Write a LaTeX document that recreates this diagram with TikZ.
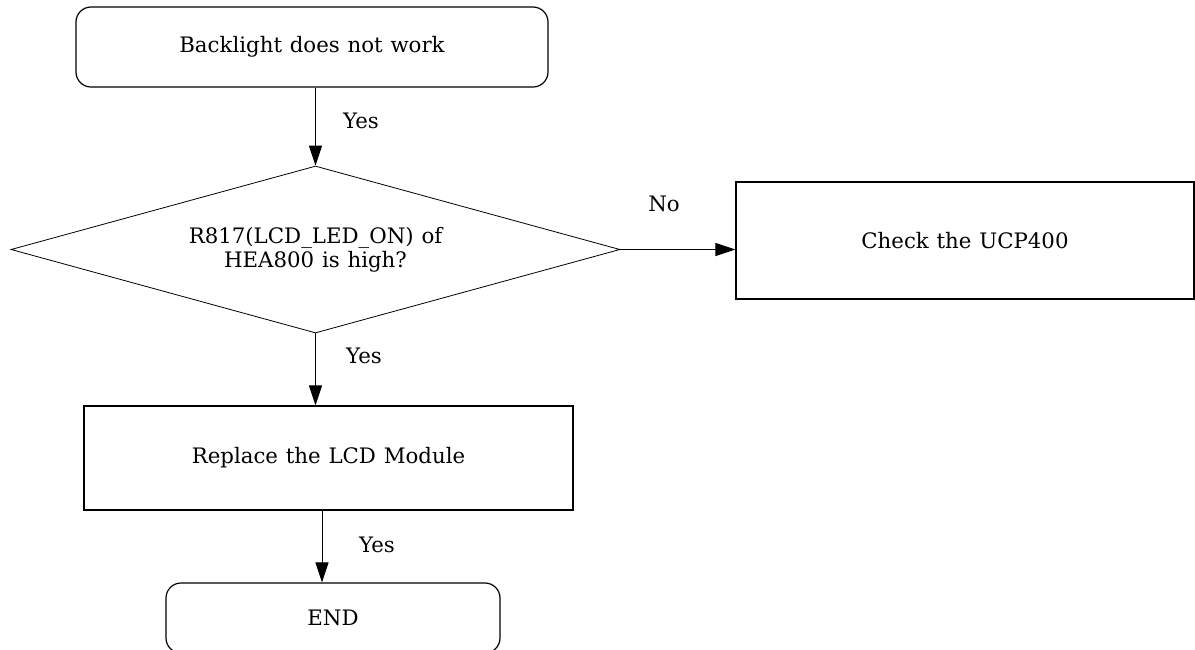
\documentclass[tikz,border=0pt]{standalone}
\usepackage{fontspec}
\setmainfont{DejaVu Serif}[WordSpace=1.15]
\usetikzlibrary{shapes.geometric,arrows.meta}
\begin{document}
\begin{tikzpicture}[x=1pt,y=-1pt,
  every node/.style={font=\fontsize{21.3}{22}\selectfont},
  roundbox/.style={draw,line width=1.2pt,rounded corners=15pt,inner sep=0pt},
  plainbox/.style={draw,line width=1.2pt,inner sep=0pt},
  decision/.style={draw,line width=0.8pt,diamond,aspect=3.65,inner sep=0pt,align=center,font=\fontsize{21.3}{24}\selectfont},
  conn/.style={line width=1pt,-{Triangle[length=20pt,width=13pt]}},
  lbl/.style={inner sep=0pt}]
\useasboundingbox (0,0) rectangle (1195,649);
\clip (0,0) rectangle (1195,649);
\node[roundbox,minimum width=472pt,minimum height=80pt] (top) at (312,47) {Backlight does not work};
\node[decision,minimum width=609pt,minimum height=167pt] (dia) at (315.5,249.5) {R817(LCD\_LED\_ON) of\\HEA800 is high?};
\node[plainbox,minimum width=458pt,minimum height=117pt] (chk) at (965,240.5) {Check the UCP400};
\node[plainbox,minimum width=489pt,minimum height=104pt] (rep) at (328.5,458) {Replace the LCD Module};
\node[roundbox,minimum width=334pt,minimum height=70pt] (endn) at (333,618) {END};
\draw[conn] (dia.north |- top.south) -- (dia.north);
\draw[conn] (dia.east) -- (chk.west |- dia.east);
\draw[conn] (dia.south) -- (dia.south |- rep.north);
\draw[conn] ([xshift=-6.5pt]rep.south) -- ([xshift=-11pt]endn.north);
\node[lbl] (l1) at (361,121) {Yes};
\node[lbl] (l2) at (664,204) {No};
\node[lbl] (l3) at (364,356) {Yes};
\node[lbl] (l4) at (377,545) {Yes};
\end{tikzpicture}
\end{document}
